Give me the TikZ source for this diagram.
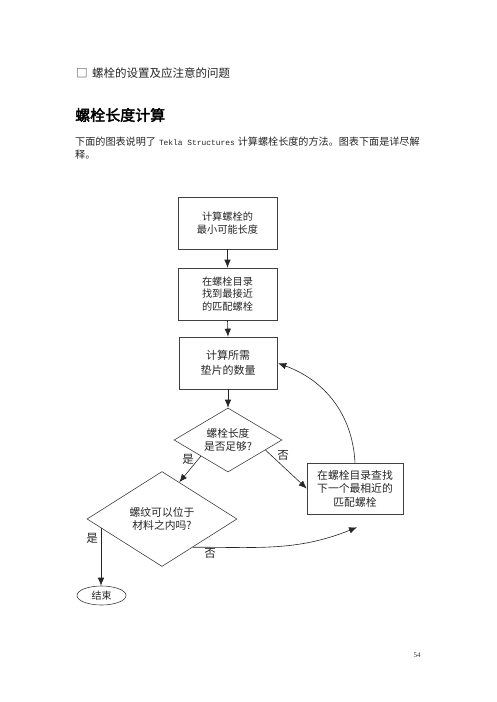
\documentclass[tikz,border=0pt]{standalone}
\usepackage{fontspec}
\setmainfont{Noto Sans CJK SC}
\newfontfamily\cjkb{Noto Sans CJK SC}[FakeBold=2.5]
\newfontfamily\monof{Liberation Mono}
\newfontfamily\numf{Liberation Serif}
\usetikzlibrary{shapes.geometric,arrows.meta,calc}
\begin{document}
\begin{tikzpicture}[x=1pt,y=1pt,
  box/.style={draw=black!75, line width=0.6pt, minimum width=99pt, minimum height=52pt, align=center, inner sep=0pt, text=black!85},
  dia/.style={draw=black!75, line width=0.6pt, diamond, align=center, inner sep=0pt, text=black!85},
  arr/.style={-{Latex[length=8pt,width=6.5pt]}, line width=0.6pt, draw=black!85},
  lbl/.style={font=\fontsize{11.5}{12}\selectfont, inner sep=0pt, text=black!85},
  txt/.style={anchor=west, inner sep=0pt, text=black!85}
]
\fill[white] (0,0) rectangle (496,-702);
\useasboundingbox (0,0) rectangle (496,-702);

% header texts
\node[txt, font=\fontsize{11.5}{12}\selectfont] (chk) at (76,-73) {□};
\node[txt, font=\fontsize{11.5}{12}\selectfont] (t1) at (92,-73) {螺栓的设置及应注意的问题};
\node[txt, font=\fontsize{15}{16}\selectfont\cjkb, text=black] (t2) at (75,-115) {螺栓长度计算};
\node[txt, font=\fontsize{10.1}{12}\selectfont] (p1) at (75,-142) {下面的图表说明了\hspace{3pt}{\monof\fontsize{7.9}{10}\selectfont Tekla Structures}\hspace{3pt}计算螺栓长度的方法。图表下面是详尽解};
\node[txt, font=\fontsize{10.1}{12}\selectfont] (p2) at (75,-155) {释。};

% flowchart
\node[box, font=\fontsize{10.2}{13}\selectfont] (b1) at (227.5,-223) {计算螺栓的\\最小可能长度};
\node[box, font=\fontsize{10.2}{12.5}\selectfont] (b2) at (227.5,-294) {在螺栓目录\\找到最接近\\的匹配螺栓};
\node[box, minimum width=98pt, font=\fontsize{11}{15}\selectfont] (b3) at (228,-363) {计算所需\\垫片的数量};
\node[dia, minimum width=108pt, minimum height=64pt, shape aspect=1.7, font=\fontsize{10.7}{13}\selectfont] (d1) at (228,-440) {螺栓长度\\是否足够?};
\node[dia, minimum width=150pt, minimum height=95pt, shape aspect=1.58, font=\fontsize{10.8}{13}\selectfont] (d2) at (162,-519) {螺纹可以位于\\材料之内吗?};
\node[box, minimum width=96pt, minimum height=51pt, font=\fontsize{10.8}{13.5}\selectfont] (b4) at (355,-488.5) {在螺栓目录查找\\下一个最相近的\\匹配螺栓};
\node[draw=black!75, line width=0.6pt, ellipse, minimum width=49pt, minimum height=19pt, inner sep=0pt, font=\fontsize{10}{12}\selectfont, text=black!85] (e) at (101.5,-595.5) {结束};

\coordinate (c4) at ($(b4.south)+(2,-13)$);

\draw[arr] (b1.south) -- (b2.north);
\draw[arr] (b2.south) -- (b3.north);
\draw[arr] (b3.south) -- (d1.north);
\draw[arr] (d1.south west) -- ($(d2.north)!0.23!(d2.east)$);
\draw[arr] ($(d1.east)!0.31!(d1.south)$) -- (b4.west);
\draw[arr, shorten >=1pt] (b4.north) to[out=93,in=-20] (b3.east);
\draw[arr] ($(d2.east)!0.59!(d2.south)$) to[out=0,in=202] (c4);
\coordinate (s2) at ($(d2.west)!0.19!(d2.south)$);
\draw[arr] (s2) -- (s2 |- e.north);

\node[lbl] (l1) at (188,-459) {是};
\node[lbl] (l2) at (283,-455) {否};
\node[lbl] (l3) at (210,-553) {否};
\node[lbl] (l4) at (92,-538) {是};

\node[inner sep=0pt, font=\numf\fontsize{7}{8}\selectfont, text=black!80] (pg) at (417,-655) {54};
\end{tikzpicture}
\end{document}
